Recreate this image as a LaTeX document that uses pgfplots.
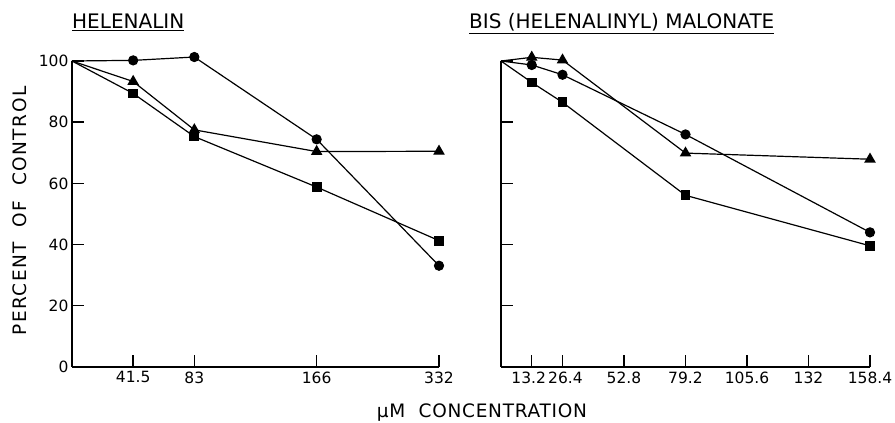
\documentclass[border=0pt]{standalone}
\usepackage{pgfplots}
\pgfplotsset{compat=1.18}
\usepackage{fontspec}
\setmainfont{DejaVu Sans}
\begin{document}
\begin{tikzpicture}[x=1pt,y=1pt]
\path[use as bounding box] (0,0) rectangle (895,423);
\pgfplotsset{panel/.style={
  scale only axis, height=306pt,
  ymin=0, ymax=100,
  axis x line*=bottom, axis y line*=left,
  axis line style={line width=1.4pt,-},
  ytick={0,20,40,60,80,100},
  tick style={black, line width=1.4pt},
  major tick length=12pt,
  tick align=inside,
  ticklabel style={font=\fontsize{15.5}{15.5}\selectfont},
  xticklabel style={yshift=-1pt},
  /pgf/number format/assume math mode=true,
  clip=false,
  every axis plot/.append style={black, line width=1.2pt, mark indices={2,3,4,5}},
  mark options={solid, fill=black},
}}
\begin{axis}[panel, width=367pt, at={(72pt,56pt)}, anchor=origin,
  xmin=0, xmax=6,
  xtick={1,2,4,6}, xticklabels={41.5,83,166,332}]
\addplot[mark=*, mark size=4.5pt] coordinates {(0,100)(1,100.2)(2,101.3)(4,74.4)(6,33.1)};
\addplot[mark=triangle*, mark size=5.5pt] coordinates {(0,100)(1,93.3)(2,77.5)(4,70.4)(6,70.5)};
\addplot[mark=square*, mark size=4.3pt] coordinates {(0,100)(1,89.4)(2,75.3)(4,58.8)(6,41.3)};
\end{axis}
\begin{axis}[panel, width=369pt, at={(501pt,56pt)}, anchor=origin,
  xmin=0, xmax=158.4, yticklabels={},
  xtick={13.2,26.4,52.8,79.2,105.6,132,158.4},
  xticklabels={\makebox[0pt]{\kern-6pt 13.2},\makebox[0pt]{\kern6pt 26.4},52.8,79.2,105.6,132,158.4}]
\addplot[mark=triangle*, mark size=5.5pt] coordinates {(0,100)(13.2,101.2)(26.4,100.3)(79.2,69.9)(158.4,67.9)};
\addplot[mark=*, mark size=4.5pt] coordinates {(0,100)(13.2,98.7)(26.4,95.5)(79.2,76)(158.4,44)};
\addplot[mark=square*, mark size=4.3pt] coordinates {(0,100)(13.2,93)(26.4,86.5)(79.2,56.1)(158.4,39.6)};
\end{axis}
\node[anchor=base west, inner sep=0pt, font=\fontsize{20}{20}\selectfont] at (72,394) {\underline{HELENALIN}};
\node[anchor=base west, inner sep=0pt, font=\fontsize{20}{20}\selectfont] at (469,394) {\underline{BIS (HELENALINYL) MALONATE}};
\node[rotate=90, inner sep=0pt, font=\fontsize{18.5}{18.5}\selectfont\addfontfeatures{LetterSpace=8}] at (19.5,212) {PERCENT\ \ OF\ \ CONTROL};
\node[inner sep=0pt, font=\fontsize{18.5}{18.5}\selectfont\addfontfeatures{LetterSpace=4}] at (482,10) {µM\ \ CONCENTRATION};
\end{tikzpicture}
\end{document}
